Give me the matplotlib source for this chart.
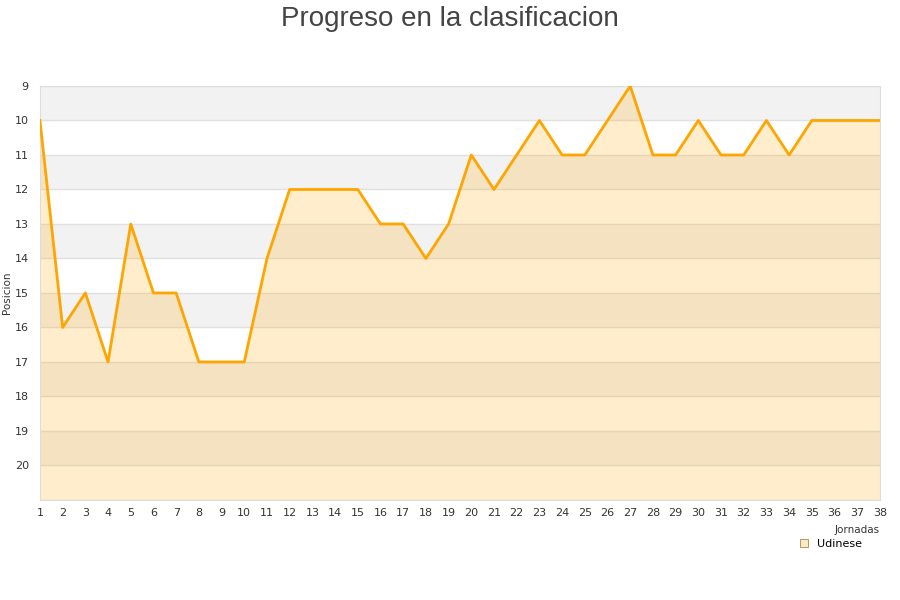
import matplotlib
matplotlib.use('Agg')
import matplotlib.pyplot as plt
from matplotlib.patches import Patch

# Posicion de Udinese por jornada
jornadas = list(range(1, 39))
posiciones = [10, 16, 15, 17, 13, 15, 15, 17, 17, 17,
              14, 12, 12, 12, 12, 13, 13, 14, 13, 11,
              12, 11, 10, 11, 11, 10, 9, 11, 11, 10,
              11, 11, 10, 11, 10, 10, 10, 10]
y_ticks = list(range(9, 21))
equipo = 'Udinese'

fig = plt.figure(figsize=(9, 6), dpi=100)
ax = fig.add_axes([0.0444, 0.1667, 0.9333, 0.69])

# bandas grises alternas
for y0 in range(9, 21, 2):
    ax.axhspan(y0, y0 + 1, color='#f2f2f2', zorder=0, lw=0)
for y in range(9, 22):
    ax.axhline(y, color='#e0e0e0', lw=1, zorder=1)

ax.fill_between(jornadas, posiciones, 21, color='#ffa500', alpha=0.2, lw=0, zorder=2)
ax.plot(jornadas, posiciones, color='#ffa500', lw=2, zorder=3)

ax.set_xlim(1, 38)
ax.set_ylim(21, 9)
ax.set_yticks(y_ticks)
ax.set_xticks(jornadas)
ax.tick_params(axis='both', length=0, labelsize=8, colors='#333333', pad=6)
ax.tick_params(axis='y', pad=8)
for s in ax.spines.values():
    s.set_color('#dddddd')
ax.set_ylabel('Posicion', fontsize=7.5, color='#333333')
ax.yaxis.set_label_coords(-0.033, 0.5)
ax.set_xlabel('Jornadas', fontsize=7.5, color='#333333', ha='right')
ax.xaxis.set_label_coords(1.0, -0.06)

fig.suptitle('Progreso en la clasificacion', fontsize=20, color='#444444',
             family='Liberation Sans', y=0.99)

leg = ax.legend(handles=[Patch(facecolor='#ffe9c4', edgecolor='#aa8855', lw=0.6, label=equipo)],
                loc='upper left', bbox_to_anchor=(0.895, -0.075), frameon=False,
                fontsize=8, handlelength=0.8, handleheight=0.8, borderpad=0.2)

plt.savefig('out.png', dpi=100)
